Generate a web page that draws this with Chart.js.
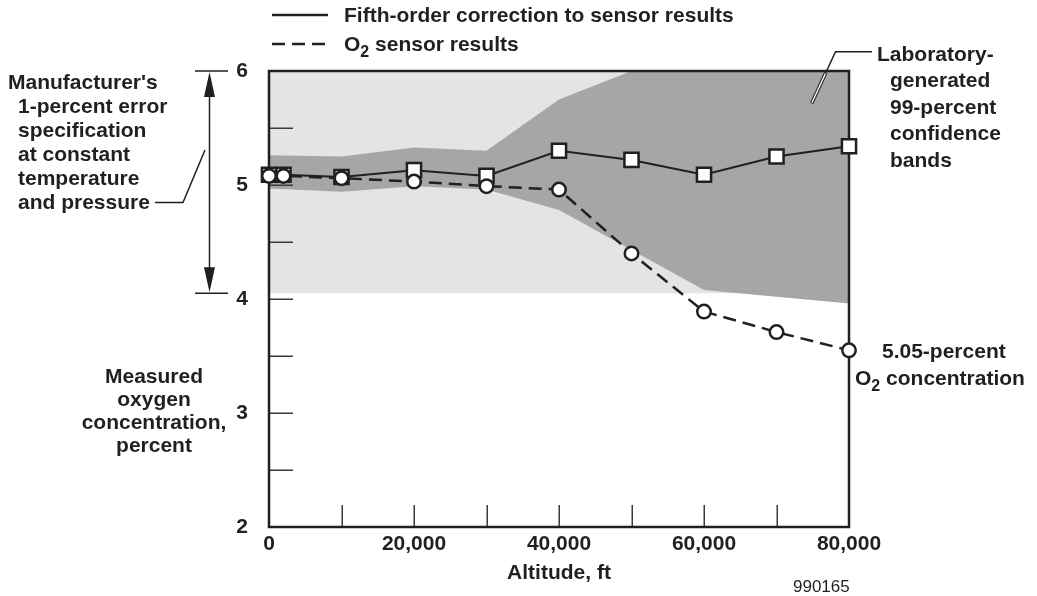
<!DOCTYPE html>
<html>
<head>
<meta charset="utf-8">
<title>Measured oxygen concentration vs altitude</title>
<script src="https://cdn.jsdelivr.net/npm/chart.js@4/dist/chart.umd.min.js"></script>
<style>
  html, body { margin: 0; padding: 0; background: #fff; }
  canvas { display: block; }
</style>
</head>
<body>
<canvas id="chart" width="1037" height="596"></canvas>
<script>
// Altitude stations (ft) and measured O2 concentration (percent)
const altitudeFt   = [0, 2000, 10000, 20000, 30000, 40000, 50000, 60000, 70000, 80000];
const correctedO2  = [5.09, 5.09, 5.07, 5.13, 5.08, 5.30, 5.22, 5.09, 5.25, 5.34];
const sensorO2     = [5.08, 5.08, 5.06, 5.03, 4.99, 4.96, 4.40, 3.89, 3.71, 3.55];

// Laboratory-generated 99-percent confidence bands
const bandAltitudeFt  = [0, 10000, 20000, 30000, 40000, 50000, 60000, 70000, 80000];
const confidenceUpper = [5.26, 5.25, 5.33, 5.30, 5.75, 6.00, 6.00, 6.00, 6.00];
const confidenceLower = [4.97, 4.94, 4.99, 4.96, 4.78, 4.43, 4.08, 4.02, 3.96];

// Manufacturer's 1-percent error specification around 5.05 percent
const specAltitudeFt = [0, 80000];
const specUpper      = [6.05, 6.05];
const specLower      = [4.05, 4.05];

// Axis ticks
const altitudeTicks      = [0, 20000, 40000, 60000, 80000];
const altitudeMinorTicks = [10000, 20000, 30000, 40000, 50000, 60000, 70000];
const oxygenTicks        = [2, 3, 4, 5, 6];
const oxygenMinorTicks   = [2.5, 3, 3.5, 4, 4.5, 5, 5.5];

const INK  = '#231f20';
const FONT = '"Liberation Sans", Arial, Helvetica, sans-serif';

const toPoints = (xs, ys) => xs.map((x, i) => ({ x: x, y: ys[i] }));
const withCommas = v => String(v).replace(/\B(?=(\d{3})+(?!\d))/g, ',');

function drawText(ctx, str, x, y, size, align, weight) {
  ctx.font = `${weight || 'bold'} ${size}px ${FONT}`;
  ctx.textAlign = align || 'left';
  ctx.textBaseline = 'alphabetic';
  ctx.fillText(str, x, y);
  return ctx.measureText(str).width;
}

// Text runs with lowered subscripts, e.g. O2
function drawRuns(ctx, runs, x, y, size) {
  ctx.textAlign = 'left';
  ctx.textBaseline = 'alphabetic';
  let cx = x;
  runs.forEach(r => {
    ctx.font = `bold ${r.sub ? 16 : size}px ${FONT}`;
    ctx.fillText(r.t, cx, y + (r.sub ? 6 : 0));
    cx += ctx.measureText(r.t).width;
  });
}

function polyline(ctx, pts, width, color) {
  ctx.beginPath();
  ctx.moveTo(pts[0][0], pts[0][1]);
  for (let i = 1; i < pts.length; i++) ctx.lineTo(pts[i][0], pts[i][1]);
  ctx.lineWidth = width;
  ctx.strokeStyle = color;
  ctx.stroke();
}

// Plot frame and inward tick marks, drawn above the shaded bands
const frameAndTicks = {
  id: 'frameAndTicks',
  afterDatasetDraw(chart, args) {
    if (args.index !== 3) return;
    const { ctx, chartArea: a, scales: { x, y } } = chart;
    ctx.save();
    ctx.strokeStyle = '#3a3a3a';
    ctx.lineWidth = 1.5;
    ctx.beginPath();
    oxygenMinorTicks.forEach(v => {
      const py = Math.round(y.getPixelForValue(v)) + 0.25;
      ctx.moveTo(a.left, py);
      ctx.lineTo(a.left + 24, py);
    });
    altitudeMinorTicks.forEach(v => {
      const px = Math.round(x.getPixelForValue(v)) + 0.25;
      ctx.moveTo(px, a.bottom);
      ctx.lineTo(px, a.bottom - 22);
    });
    ctx.stroke();
    ctx.strokeStyle = INK;
    ctx.lineWidth = 2.5;
    ctx.strokeRect(a.left, a.top, a.right - a.left, a.bottom - a.top);
    ctx.restore();
  }
};

// Legend, callouts and captions
const callouts = {
  id: 'callouts',
  afterDraw(chart) {
    const { ctx, scales: { y } } = chart;
    const ds = chart.data.datasets;
    ctx.save();
    ctx.fillStyle = INK;

    // legend
    const solid = ds[4], dashed = ds[5];
    ctx.setLineDash(solid.borderDash || []);
    polyline(ctx, [[272, 15], [328, 15]], 2.5, solid.borderColor);
    ctx.setLineDash(dashed.borderDash);
    polyline(ctx, [[272, 44], [328, 44]], 2.5, dashed.borderColor);
    ctx.setLineDash([]);
    drawText(ctx, solid.label, 344, 22, 21);
    drawRuns(ctx, [{ t: 'O' }, { t: '2', sub: true }, { t: ' sensor results' }], 344, 51, 21);

    // manufacturer's specification callout
    const specLines = [
      ["Manufacturer's", 8, 89],
      ['1-percent error', 18, 113],
      ['specification', 18, 137],
      ['at constant', 18, 161],
      ['temperature', 18, 185],
      ['and pressure', 18, 209]
    ];
    let lastEnd = 0;
    specLines.forEach(([s, x0, y0]) => { lastEnd = x0 + drawText(ctx, s, x0, y0, 21); });
    polyline(ctx, [[lastEnd + 5, 202.5], [183, 202.5], [205, 150]], 1.5, INK);

    // double-headed arrow spanning the specification
    const ax = 209.5;
    const yTop = y.getPixelForValue(specUpper[0] > 6 ? 6 : specUpper[0]);
    const yBot = y.getPixelForValue(specLower[0]);
    polyline(ctx, [[195, yTop], [228, yTop]], 1.5, INK);
    polyline(ctx, [[195, yBot], [228, yBot]], 1.5, INK);
    polyline(ctx, [[ax, yTop + 10], [ax, yBot - 10]], 1.5, INK);
    ctx.beginPath();
    ctx.moveTo(ax, yTop + 1); ctx.lineTo(ax - 5.5, yTop + 26); ctx.lineTo(ax + 5.5, yTop + 26); ctx.closePath();
    ctx.moveTo(ax, yBot - 1); ctx.lineTo(ax - 5.5, yBot - 26); ctx.lineTo(ax + 5.5, yBot - 26); ctx.closePath();
    ctx.fill();

    // y-axis caption
    [['Measured', 383], ['oxygen', 406], ['concentration,', 429], ['percent', 452]]
      .forEach(([s, y0]) => drawText(ctx, s, 154, y0, 21, 'center'));

    // confidence band callout
    [['Laboratory-', 877, 60.5], ['generated', 890, 87], ['99-percent', 890, 113.5],
     ['confidence', 890, 140], ['bands', 890, 166.5]]
      .forEach(([s, x0, y0]) => drawText(ctx, s, x0, y0, 21));
    polyline(ctx, [[872, 51.7], [835.5, 51.7], [811.7, 103.3]], 1.5, INK);
    const k = (835.5 - 811.7) / (103.3 - 51.7);
    const yIn = chart.chartArea.top + 2;
    const xIn = 835.5 - (yIn - 51.7) * k;
    polyline(ctx, [[xIn, yIn], [811.7, 103.3]], 3.5, INK);
    polyline(ctx, [[xIn - 0.2, yIn + 0.5], [811.9, 102.8]], 1.4, '#ffffff');

    // reference concentration note
    drawText(ctx, '5.05-percent', 882, 358, 21);
    drawRuns(ctx, [{ t: 'O' }, { t: '2', sub: true }, { t: ' concentration' }], 855, 385, 21);

    // figure number
    drawText(ctx, '990165', 793, 591.5, 17, 'left', 'normal');
    ctx.restore();
  }
};

new Chart(document.getElementById('chart'), {
  type: 'line',
  data: {
    datasets: [
      { label: 'Specification upper', data: toPoints(specAltitudeFt, specUpper),
        fill: '+1', backgroundColor: '#e4e4e4', borderWidth: 0, pointRadius: 0, order: 6, clip: 0 },
      { label: 'Specification lower', data: toPoints(specAltitudeFt, specLower),
        fill: false, borderWidth: 0, pointRadius: 0, order: 5, clip: 0 },
      { label: 'Confidence upper', data: toPoints(bandAltitudeFt, confidenceUpper),
        fill: '+1', backgroundColor: '#a6a6a6', borderWidth: 0, pointRadius: 0, order: 4, clip: 0 },
      { label: 'Confidence lower', data: toPoints(bandAltitudeFt, confidenceLower),
        fill: false, borderWidth: 0, pointRadius: 0, order: 3, clip: 0 },
      { label: 'Fifth-order correction to sensor results', data: toPoints(altitudeFt, correctedO2),
        borderColor: INK, borderWidth: 2, fill: false,
        pointStyle: 'rect', pointRadius: 10, pointBorderWidth: 2.5,
        pointBackgroundColor: '#ffffff', pointBorderColor: INK, order: 2, clip: false },
      { label: 'O2 sensor results', data: toPoints(altitudeFt, sensorO2),
        borderColor: INK, borderWidth: 2.5, borderDash: [13, 7], fill: false,
        pointStyle: 'circle', pointRadius: 6.75, pointBorderWidth: 2.5,
        pointBackgroundColor: '#ffffff', pointBorderColor: INK, order: 1, clip: false }
    ]
  },
  options: {
    responsive: false,
    animation: false,
    events: [],
    layout: { padding: { top: 71, right: 188, left: 0, bottom: 0 } },
    plugins: {
      legend: { display: false },
      tooltip: { enabled: false },
      filler: { propagate: false }
    },
    scales: {
      x: {
        type: 'linear', min: 0, max: 80000,
        afterBuildTicks: s => { s.ticks = altitudeTicks.map(v => ({ value: v })); },
        afterFit: s => { s.height = 69; },
        grid: { display: false, drawTicks: false },
        border: { display: false },
        ticks: { padding: 5, autoSkip: false, maxRotation: 0, color: INK,
                 font: { family: FONT, weight: 'bold', size: 21 },
                 callback: v => withCommas(v) },
        title: { display: true, text: 'Altitude, ft', color: INK,
                 font: { family: FONT, weight: 'bold', size: 21 },
                 padding: { top: 0, bottom: 10 } }
      },
      y: {
        min: 2, max: 6,
        afterBuildTicks: s => { s.ticks = oxygenTicks.map(v => ({ value: v })); },
        afterFit: s => { s.width = 269; },
        grid: { display: false, drawTicks: false },
        border: { display: false },
        ticks: { padding: 21, autoSkip: false, color: INK,
                 font: { family: FONT, weight: 'bold', size: 21 },
                 callback: v => String(v) }
      }
    }
  },
  plugins: [frameAndTicks, callouts]
});
</script>
</body>
</html>
